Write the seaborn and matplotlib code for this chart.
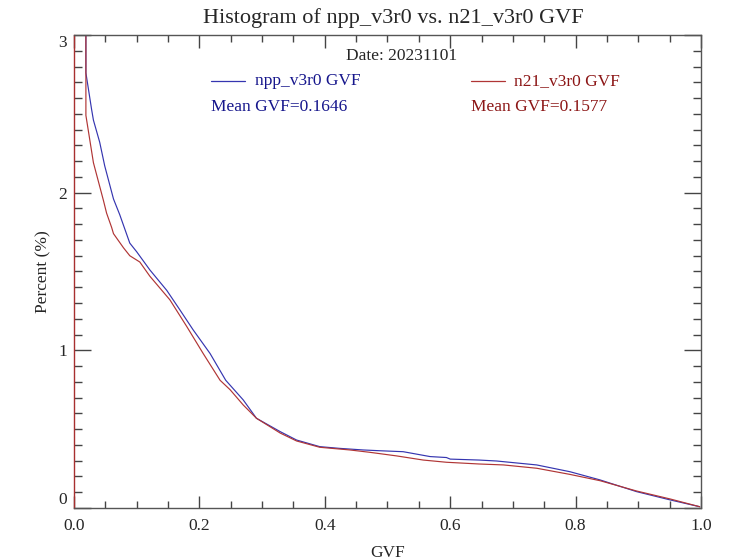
import matplotlib
matplotlib.use("Agg")
import matplotlib.pyplot as plt
from matplotlib.ticker import MultipleLocator
import seaborn as sns
import pandas as pd

# ---- data ----
npp_gvf = [0.0185, 0.019, 0.028, 0.031, 0.041, 0.049, 0.055, 0.063, 0.073, 0.089, 0.100,
           0.121, 0.148, 0.169, 0.190, 0.217, 0.242, 0.270, 0.291, 0.329, 0.355, 0.392,
           0.424, 0.461, 0.488, 0.525, 0.568, 0.594, 0.600, 0.646, 0.674, 0.738, 0.791,
           0.839, 0.897, 0.951, 0.998]
npp_pct = [12.0, 2.76, 2.53, 2.46, 2.32, 2.17, 2.08, 1.96, 1.86, 1.68, 1.625,
           1.51, 1.38, 1.256, 1.13, 0.98, 0.81, 0.685, 0.569, 0.484, 0.431, 0.389,
           0.378, 0.368, 0.363, 0.357, 0.326, 0.320, 0.310, 0.304, 0.298, 0.273, 0.230,
           0.178, 0.104, 0.051, 0.008]

n21_gvf = [0.0185, 0.019, 0.031, 0.041, 0.047, 0.052, 0.060, 0.063, 0.079, 0.089, 0.105,
           0.121, 0.153, 0.180, 0.206, 0.233, 0.249, 0.270, 0.291, 0.329, 0.355, 0.392,
           0.440, 0.472, 0.515, 0.557, 0.594, 0.646, 0.685, 0.738, 0.791, 0.839, 0.897,
           0.951, 0.998]
n21_pct = [12.0, 2.49, 2.19, 2.04, 1.95, 1.87, 1.78, 1.74, 1.65, 1.60, 1.56,
           1.47, 1.32, 1.15, 0.98, 0.81, 0.75, 0.653, 0.569, 0.475, 0.425, 0.385,
           0.368, 0.353, 0.330, 0.304, 0.290, 0.279, 0.273, 0.252, 0.213, 0.173, 0.108,
           0.057, 0.008]

series_names = ["npp_v3r0 GVF", "n21_v3r0 GVF"]
mean_labels = ["Mean GVF=0.1646", "Mean GVF=0.1577"]
date_label = "Date: 20231101"
title = "Histogram of npp_v3r0 vs. n21_v3r0 GVF"

df = pd.concat([
    pd.DataFrame({"GVF": npp_gvf, "Percent": npp_pct, "sat": series_names[0]}),
    pd.DataFrame({"GVF": n21_gvf, "Percent": n21_pct, "sat": series_names[1]}),
], ignore_index=True)

sns.set_style("white")
plt.rcParams["font.family"] = ["Liberation Serif", "DejaVu Serif"]

line_cols = ["#3535b0", "#b03535"]
text_cols = ["#16168c", "#8c1616"]

fig = plt.figure(figsize=(7.34, 5.6), dpi=100)
ax = fig.add_axes([0.1008, 0.0929, 0.8542, 0.8446])

sns.lineplot(data=df, x="GVF", y="Percent", hue="sat", palette=dict(zip(series_names, line_cols)),
             sort=False, estimator=None, linewidth=0.85, legend=False, ax=ax)

ax.set_xlim(0, 1.0)
ax.set_ylim(0, 3)
ax.xaxis.set_major_locator(MultipleLocator(0.2))
ax.xaxis.set_minor_locator(MultipleLocator(0.05))
ax.yaxis.set_major_locator(MultipleLocator(1))
ax.yaxis.set_minor_locator(MultipleLocator(0.1))
ax.xaxis.set_major_formatter(matplotlib.ticker.FormatStrFormatter("%.1f"))
ax.yaxis.set_major_formatter(matplotlib.ticker.FormatStrFormatter("%d"))

ax.tick_params(axis="x", which="major", direction="in", length=9, width=1, color="#444444",
               top=True, bottom=True, labelsize=12.5, pad=7)
ax.tick_params(axis="x", which="minor", direction="in", length=5, width=1, color="#444444",
               top=True, bottom=True)
ax.tick_params(axis="y", which="major", direction="in", length=12, width=1, color="#444444",
               left=True, right=True, labelsize=12.5, pad=5)
ax.tick_params(axis="y", which="minor", direction="in", length=6, width=1, color="#444444",
               left=True, right=True)

for s in ax.spines.values():
    s.set_visible(True)
    s.set_color("#555555")
    s.set_linewidth(1.0)
ax.spines["left"].set_color("#a83030")

ax.set_xlabel("GVF", fontsize=12.5, labelpad=8)
ax.set_ylabel("Percent (%)", fontsize=12.5, labelpad=5)
fig.text(0.536, 0.968, title, ha="center", va="center", fontsize=16)

fig.canvas.draw()
ylabels = ax.get_yticklabels()
for lab in ylabels:
    if lab.get_text() == "0":
        lab.set_va("bottom")
    elif lab.get_text() == "3":
        lab.set_va("top")

ax.text(0.523, 0.956, date_label, transform=ax.transAxes, ha="center", va="center", fontsize=12.5)

line_x = [(0.2185, 0.273), (0.633, 0.687)]
text_x = [0.289, 0.702]
for i in range(2):
    ax.plot(line_x[i], [0.903, 0.903], transform=ax.transAxes, color=line_cols[i], lw=0.9)
    ax.text(text_x[i], 0.903, series_names[i], transform=ax.transAxes, ha="left", va="center",
            fontsize=12.5, color=text_cols[i])
    ax.text(line_x[i][0], 0.848, mean_labels[i], transform=ax.transAxes, ha="left", va="center",
            fontsize=12.5, color=text_cols[i])

fig.savefig("out.png", dpi=100)
